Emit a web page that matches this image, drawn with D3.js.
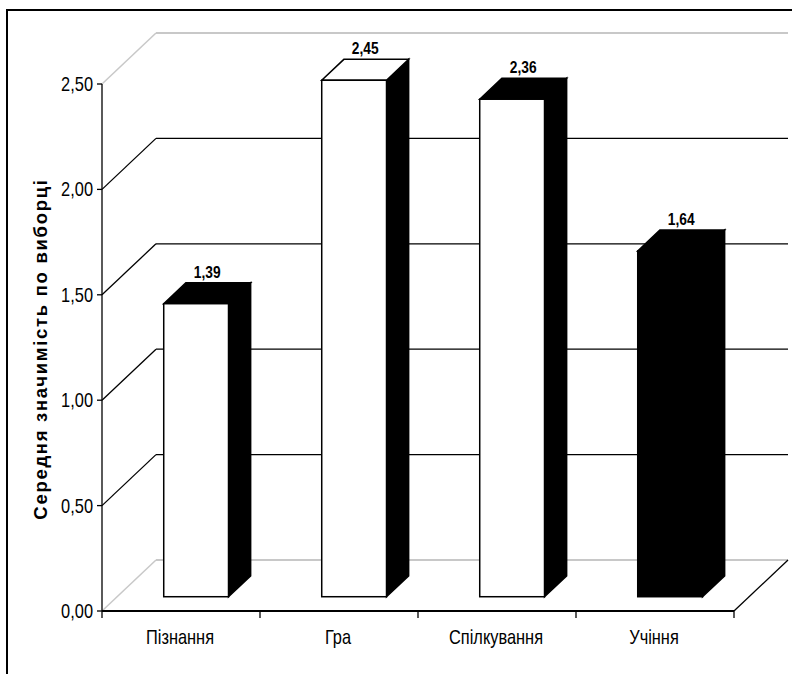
<!DOCTYPE html>
<html>
<head>
<meta charset="utf-8">
<script src="https://cdn.jsdelivr.net/npm/d3@7/dist/d3.min.js"></script>
<style>
  html, body { margin: 0; padding: 0; background: #fff; }
  svg { display: block; }
  text { font-family: "Liberation Sans", Arial, sans-serif; fill: #000; }
</style>
</head>
<body>
<svg id="chart" width="792" height="674"></svg>
<script>
// Mean significance per motive category
const categories = ["Пізнання", "Гра", "Спілкування", "Учіння"];
const values = [1.39, 2.45, 2.36, 1.64];
const valueLabels = ["1,39", "2,45", "2,36", "1,64"];
const yTicks = [0, 0.5, 1, 1.5, 2, 2.5];
const yTickLabels = ["0,00", "0,50", "1,00", "1,50", "2,00", "2,50"];
const yTitle = "Середня значимість по виборці";

// Face colours for each column: [front, top, side]
const faceFills = [
  ["#fff", "#000", "#000"],
  ["#fff", "#fff", "#000"],
  ["#fff", "#000", "#000"],
  ["#000", "#000", "#000"]
];

const svg = d3.select("#chart");

// Plot geometry (front plane) and 3-D depth projection
const left = 102, right = 734, floorY = 611, topY = 84;
const depthDX = 54, depthDY = -51;
const proj = (z) => [depthDX * z, depthDY * z];
const barZ0 = 0.28, barZ1 = 0.69;
const barRatio = 0.41;

const x = d3.scaleBand().domain(categories).range([left, right]).padding(0);
const y = d3.scaleLinear().domain([0, 2.5]).range([floorY, topY]);

// Outer frame
svg.append("rect")
  .attr("x", 7).attr("y", 10).attr("width", 820).attr("height", 700)
  .attr("fill", "none").attr("stroke", "#000").attr("stroke-width", 2);

const grid = svg.append("g");
const [bx, by] = proj(1);

// Walls: side wall diagonals and back wall lines for every gridline
yTicks.forEach((t, i) => {
  const edge = (i === 0 || i === yTicks.length - 1);
  const col = edge ? "#c8c8c8" : "#000";
  grid.append("line")
    .attr("x1", left).attr("y1", y(t))
    .attr("x2", left + bx).attr("y2", y(t) + by)
    .attr("stroke", col).attr("stroke-width", edge ? 1.5 : 1.3);
  grid.append("line")
    .attr("x1", left + bx).attr("y1", y(t) + by)
    .attr("x2", right + bx).attr("y2", y(t) + by)
    .attr("stroke", col).attr("stroke-width", edge ? 2 : 1.3);
});

// Floor front-right edge
grid.append("line")
  .attr("x1", right).attr("y1", floorY)
  .attr("x2", right + bx).attr("y2", floorY + by)
  .attr("stroke", "#000").attr("stroke-width", 1.3);

// Columns
const bars = svg.append("g");
const [fx, fy] = proj(barZ0);
const [kx, ky] = proj(barZ1);
const dX = kx - fx, dY = ky - fy;

categories.forEach((c, i) => {
  const w = x.bandwidth() * barRatio;
  const x0 = x(c) + (x.bandwidth() - w) / 2 + fx;
  const x1 = x0 + w;
  const yb = y(0) + fy;
  const yt = y(values[i]) + fy;
  const g = bars.append("g")
    .attr("stroke", "#000").attr("stroke-width", 1.5).attr("stroke-linejoin", "miter");
  // side face
  g.append("path")
    .attr("d", `M${x1},${yb}L${x1 + dX},${yb + dY}L${x1 + dX},${yt + dY}L${x1},${yt}Z`)
    .attr("fill", faceFills[i][2]);
  // top face
  g.append("path")
    .attr("d", `M${x0},${yt}L${x1},${yt}L${x1 + dX},${yt + dY}L${x0 + dX},${yt + dY}Z`)
    .attr("fill", faceFills[i][1]);
  // front face
  g.append("rect")
    .attr("x", x0).attr("y", yt).attr("width", w).attr("height", yb - yt)
    .attr("fill", faceFills[i][0]);
  // value label over the top face
  svg.append("text")
    .attr("transform", `translate(${(x0 + x1) / 2 + dX / 2},${yt + dY - 5}) scale(0.86,1)`)
    .attr("text-anchor", "middle")
    .attr("font-size", 16).attr("font-weight", "bold")
    .text(valueLabels[i]);
});

// Y axis
const yAxis = svg.append("g");
yAxis.append("line")
  .attr("x1", left).attr("y1", y(0)).attr("x2", left).attr("y2", y(2.5))
  .attr("stroke", "#000").attr("stroke-width", 1.3);
yTicks.forEach((t, i) => {
  yAxis.append("line")
    .attr("x1", left - 5).attr("y1", y(t)).attr("x2", left).attr("y2", y(t))
    .attr("stroke", "#000").attr("stroke-width", 1.3);
  yAxis.append("text")
    .attr("transform", `translate(${left - 9},${y(t) + 7}) scale(0.82,1)`)
    .attr("text-anchor", "end")
    .attr("font-size", 20)
    .text(yTickLabels[i]);
});

// X axis
const xAxis = svg.append("g");
xAxis.append("line")
  .attr("x1", left).attr("y1", floorY).attr("x2", right).attr("y2", floorY)
  .attr("stroke", "#000").attr("stroke-width", 2);
const boundaries = categories.map(c => x(c)).concat([right]);
boundaries.forEach(b => {
  xAxis.append("line")
    .attr("x1", b).attr("y1", floorY).attr("x2", b).attr("y2", floorY + 7)
    .attr("stroke", "#000").attr("stroke-width", 1.3);
});
categories.forEach(c => {
  xAxis.append("text")
    .attr("transform", `translate(${x(c) + x.bandwidth() / 2 - 1},${floorY + 33}) scale(0.82,1)`)
    .attr("text-anchor", "middle")
    .attr("font-size", 20)
    .text(c);
});

// Y axis title
svg.append("text")
  .attr("transform", `translate(47,349) rotate(-90)`)
  .attr("text-anchor", "middle")
  .attr("font-size", 18.5).attr("font-weight", "bold")
  .attr("letter-spacing", 1.7)
  .text(yTitle);
</script>
</body>
</html>
